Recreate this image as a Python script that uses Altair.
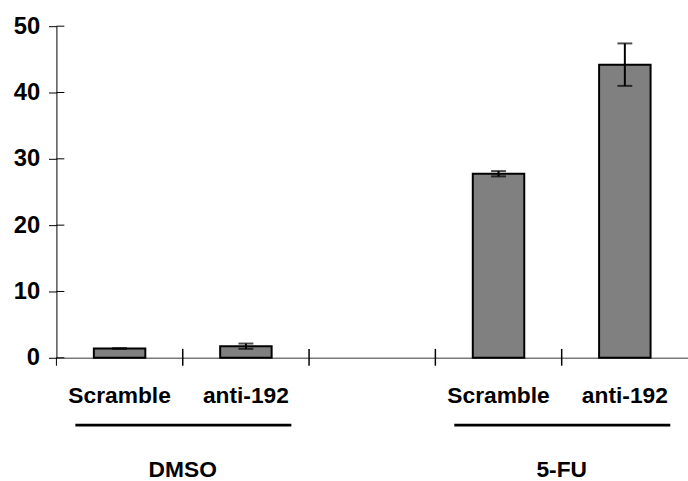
import altair as alt
import pandas as pd

# ---- data ----
groups = ["DMSO", "DMSO", "5-FU", "5-FU"]
treatments = ["Scramble", "anti-192", "Scramble", "anti-192"]
means = [1.4, 1.75, 27.75, 44.2]
errors = [0.05, 0.4, 0.4, 3.2]

group_names = ["DMSO", "5-FU"]
y_ticks = [0, 10, 20, 30, 40, 50]

keys = [f"{g}|{t}" for g, t in zip(groups, treatments)]
domain = keys[:2] + ["gap"] + keys[2:]

df = pd.DataFrame({
    "key": keys,
    "mean": means,
    "lo": [m - e for m, e in zip(means, errors)],
    "hi": [m + e for m, e in zip(means, errors)],
})

xscale = alt.Scale(domain=domain, paddingInner=0, paddingOuter=0)
yscale = alt.Scale(domain=[0, 50], nice=False)

FONT = "Liberation Sans"

x_enc = alt.X(
    "key:N", scale=xscale, title=None,
    axis=alt.Axis(
        labelExpr="indexof(datum.label, '|') >= 0 ? split(datum.label, '|')[1] : ''",
        labelAngle=0, ticks=False, tickSize=0, labelPadding=27,
        labelFont=FONT, labelFontSize=23, labelFontWeight="bold", labelColor="black",
        domainColor="#7a7a7a", domainWidth=1.5,
    ),
)
y_enc = alt.Y(
    "mean:Q", scale=yscale, title=None,
    axis=alt.Axis(
        values=y_ticks, grid=False, tickSize=8, tickColor="black", tickWidth=1,
        domainColor="black", domainWidth=1, labelPadding=9,
        labelFont=FONT, labelFontSize=24, labelFontWeight="bold", labelColor="black",
    ),
)

bars = alt.Chart(df).mark_bar(
    width=52, color="#808080", stroke="black", strokeWidth=2
).encode(x=x_enc, y=y_enc)

err = alt.Chart(df).mark_rule(color="black", strokeWidth=2).encode(
    x=alt.X("key:N", scale=xscale), y=alt.Y("lo:Q", scale=yscale), y2="hi:Q"
)
cap_lo = alt.Chart(df).mark_tick(color="black", size=15, thickness=2).encode(
    x=alt.X("key:N", scale=xscale), y=alt.Y("lo:Q", scale=yscale)
)
cap_hi = alt.Chart(df).mark_tick(color="black", size=15, thickness=2).encode(
    x=alt.X("key:N", scale=xscale), y=alt.Y("hi:Q", scale=yscale)
)

# inner half of crossing y ticks
ytick_df = pd.DataFrame({"v": y_ticks})
ytick_inner = alt.Chart(ytick_df).mark_rule(color="black", strokeWidth=1).encode(
    y=alt.Y("v:Q", scale=yscale), x=alt.value(0), x2=alt.value(8)
)
# y axis continues slightly below zero
yext = alt.Chart(ytick_df.head(1)).mark_rule(color="black", strokeWidth=1).encode(
    y=alt.Y("v:Q", scale=yscale), y2=alt.value(343), x=alt.value(0)
)

# crossing boundary ticks on the x axis
bnd_df = pd.DataFrame({"key": domain[1:]})
bnd = alt.Chart(bnd_df).mark_rule(color="black", strokeWidth=1.5).encode(
    x=alt.X("key:N", scale=xscale, bandPosition=0),
    y=alt.value(326), y2=alt.value(343),
)

# group underlines and labels
grp_df = pd.DataFrame({
    "group": group_names,
    "start": [k for k in keys if k.endswith("Scramble")],
    "end": [k for k in keys if k.endswith("anti-192")],
})
grp_lines = alt.Chart(grp_df).mark_rule(color="black", strokeWidth=3).encode(
    x=alt.X("start:N", scale=xscale, bandPosition=0.15),
    x2=alt.X2("end:N", bandPosition=0.86),
    y=alt.value(403),
)
grp_text = alt.Chart(grp_df).mark_text(
    font=FONT, fontSize=23, fontWeight="bold", color="black",
    align="center", baseline="alphabetic",
).encode(
    x=alt.X("end:N", scale=xscale, bandPosition=0),
    y=alt.value(455),
    text="group:N",
)

chart = alt.layer(
    bars, err, cap_lo, cap_hi, ytick_inner, yext, bnd, grp_lines, grp_text
).properties(
    width=638, height=335,
    autosize=alt.AutoSizeParams(type="none"),
    padding={"left": 57, "top": 24, "right": 0, "bottom": 122},
    background="white",
).configure_view(stroke=None)

chart.save("out.html", embed_options={"renderer": "svg", "actions": False})
